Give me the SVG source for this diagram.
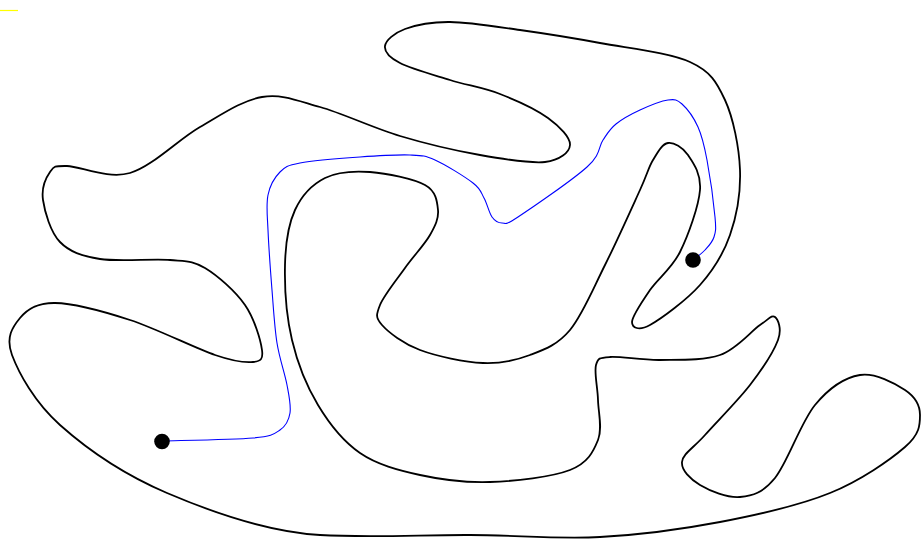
<svg xmlns="http://www.w3.org/2000/svg" width="922" height="539" viewBox="0 0 922 539">
<style>
.wall{fill:none;stroke:#000;stroke-width:1.8;stroke-linejoin:round}
.route{fill:none;stroke:#0000ff;stroke-width:1.1}
.dot{fill:#000}
.mark{stroke:#ffff00;stroke-width:1.2}
</style>
<rect width="922" height="539" fill="#fff"/>
<line class="mark" x1="0" y1="10.5" x2="18" y2="10.5"/>
<g id="maze">
<path class="wall" d="M67,166
C 80.3,166.2 107.8,179.5 130,173
C 152.2,166.5 178,139.7 200,127
C 222,114.3 242,100.3 262,97
C 282,93.7 297,100.5 320,107
C 343,113.5 373.3,128 400,136
C 426.7,144 455.8,150.7 480,155
C 504.2,159.3 530,163.7 545,162
C 560,160.3 569.5,152.3 570,145
C 570.5,137.7 559.7,126.5 548,118
C 536.3,109.5 516.3,100.3 500,94
C 483.7,87.7 466.7,85.2 450,80
C 433.3,74.8 410.8,68.7 400,63
C 389.2,57.3 384.2,51.7 385,46
C 385.8,40.3 394.2,33 405,29
C 415.8,25 430.8,21.8 450,22
C 469.2,22.2 495,26.5 520,30
C 545,33.5 571.7,37.7 600,43
C 628.3,48.3 669.2,52.5 690,62
C 710.8,71.5 716.7,82 725,100
C 733.3,118 739.2,147.5 740,170
C 740.8,192.5 736.7,215.8 730,235
C 723.3,254.2 713.3,270 700,285
C 686.7,300 661.3,318.8 650,325
C 638.7,331.2 632,327.8 632,322
C 632,316.2 642,301.7 650,290
C 658,278.3 671.7,268.7 680,252
C 688.3,235.3 698.7,206.2 700,190
C 701.3,173.8 693.3,162.8 688,155
C 682.7,147.2 673.8,142.2 668,143
C 662.2,143.8 657.7,152.2 653,160
C 648.3,167.8 648,172.5 640,190
C 632,207.5 616.7,241.7 605,265
C 593.3,288.3 582.5,315 570,330
C 557.5,345 544.5,349.5 530,355
C 515.5,360.5 501.3,363.8 483,363
C 464.7,362.2 436.8,356.3 420,350
C 403.2,343.7 388.7,332.5 382,325
C 375.3,317.5 376.2,314.5 380,305
C 383.8,295.5 396.7,279.7 405,268
C 413.3,256.3 424.5,244.7 430,235
C 435.5,225.3 438.8,218.3 438,210
C 437.2,201.7 436.3,191.3 425,185
C 413.7,178.7 386.7,173.2 370,172
C 353.3,170.8 337.5,171.7 325,178
C 312.5,184.3 301.7,195.5 295,210
C 288.3,224.5 285.5,243.3 285,265
C 284.5,286.7 286.5,316.7 292,340
C 297.5,363.3 306.7,386.2 318,405
C 329.3,423.8 343,441.3 360,453
C 377,464.7 398.3,470.2 420,475
C 441.7,479.8 465,482.8 490,482
C 515,481.2 552,477 570,470
C 588,463 593.3,451.7 598,440
C 602.7,428.3 598.3,412.5 598,400
C 597.7,387.5 594,372.2 596,365
C 598,357.8 599.3,357.8 610,357
C 620.7,356.2 641.7,360.3 660,360
C 678.3,359.7 703.3,360.8 720,355
C 736.7,349.2 750.8,331.3 760,325
C 769.2,318.7 772,314.5 775,317
C 778,319.5 782.2,328.7 778,340
C 773.8,351.3 762.2,369.2 750,385
C 737.8,400.8 716.3,422.2 705,435
C 693.7,447.8 682.8,453.7 682,462
C 681.2,470.3 690.3,479.2 700,485
C 709.7,490.8 727.5,498.2 740,497
C 752.5,495.8 762.5,493.3 775,478
C 787.5,462.7 800.8,422.2 815,405
C 829.2,387.8 845,377.5 860,375
C 875,372.5 895,383.3 905,390
C 915,396.7 920,405.5 920,415
C 920,424.5 920,434 905,447
C 890,460 860.8,480.5 830,493
C 799.2,505.5 758.3,514.7 720,522
C 681.7,529.3 641.7,534.8 600,537
C 558.3,539.2 516.7,535.3 470,535
C 423.3,534.7 370.5,538 320,535
C 269.5,532 210.3,511.5 167,493
C 123.7,474.5 85.8,448 60,425
C 34.2,402 18.7,372.8 12,355
C 5.3,337.2 12.8,326.7 20,318
C 27.2,309.3 36.7,302.7 55,303
C 73.3,303.3 103.3,311.3 130,320
C 156.7,328.7 194.5,348 215,355
C 235.5,362 245.2,362.8 253,362
C 260.8,361.2 263.3,359.5 262,350
C 260.7,340.5 254.5,318.7 245,305
C 235.5,291.3 217.5,275.5 205,268
C 192.5,260.5 187.5,261.5 170,260
C 152.5,258.5 118.3,262 100,259
C 81.7,256 69.5,251.8 60,242
C 50.5,232.2 44.7,211.7 43,200
C 41.3,188.3 46,177.7 50,172
C 54,166.3 53.7,165.8 67,166 Z"/>
</g>
<g id="route">
<path class="route" d="M162,441
C 177.2,440.5 233.3,439.8 253,438
C 272.7,436.2 273.8,434.2 280,430
C 286.2,425.8 288.8,420.5 290,413
C 291.2,405.5 289.2,396.7 287,385
C 284.8,373.3 279.5,358.8 277,343
C 274.5,327.2 273.5,308.8 272,290
C 270.5,271.2 268.7,245.8 268,230
C 267.3,214.2 266,204.7 268,195
C 270,185.3 274.7,177.3 280,172
C 285.3,166.7 286.7,165.5 300,163
C 313.3,160.5 341.7,158.3 360,157
C 378.3,155.7 397.5,154.5 410,155
C 422.5,155.5 424.5,155.3 435,160
C 445.5,164.7 464.8,176.7 473,183
C 481.2,189.3 480.8,192.3 484,198
C 487.2,203.7 489,212.8 492,217
C 495,221.2 497.7,223 502,223
C 506.3,223 503.8,226.3 518,217
C 532.2,207.7 572.8,179.8 587,167
C 601.2,154.2 598.2,147.2 603,140
C 607.8,132.8 609.8,129 616,124
C 622.2,119 631.3,114 640,110
C 648.7,106 661,101 668,100
C 675,99 677,99.5 682,104
C 687,108.5 693.8,117.7 698,127
C 702.2,136.3 704.2,145 707,160
C 709.8,175 713.8,204.2 715,217
C 716.2,229.8 715.7,231.5 714,237
C 712.3,242.5 708.5,246.2 705,250
C 701.5,253.8 695,258.3 693,260"/>
</g>
<g id="start"><circle class="dot" cx="162" cy="441.5" r="7.8"/></g>
<g id="end"><circle class="dot" cx="693" cy="260" r="7.8"/></g>
</svg>
